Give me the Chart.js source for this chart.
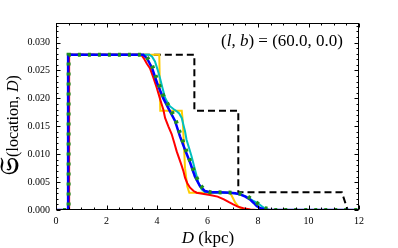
<!DOCTYPE html>
<html><head><meta charset="utf-8">
<script src="https://cdn.jsdelivr.net/npm/chart.js@4/dist/chart.umd.min.js"></script>
<style>html,body{margin:0;padding:0;background:#fff}canvas{display:block}</style>
</head><body>
<canvas id="c" width="398" height="248"></canvas>
<script>
// ---- data ----
const blackX = [0, 0.5, 0.5, 5.48, 5.48, 7.22, 7.22, 11.32, 11.55, 12];
const blackY = [0, 0, 0.0278, 0.0278, 0.0178, 0.0178, 0.0032, 0.0032, 0, 0];

const yellowX = [0, 0.5, 0.5, 4.09, 4.13, 4.98, 5.02, 5.11, 5.2, 5.28, 6.9, 7.0, 7.1, 7.25, 7.45, 12];
const yellowY = [0, 0, 0.0278, 0.0278, 0.0178, 0.0178, 0.016, 0.0075, 0.0042, 0.0031, 0.0031, 0.0022, 0.0013, 0.0005, 0, 0];

const cyanX = [0, 0.48, 0.48, 3.7, 3.8, 3.92, 4.02, 4.12, 4.22, 4.32, 4.42, 4.51, 4.65, 4.78, 4.88, 4.98, 5.05, 5.11, 5.17, 5.27, 5.37, 5.5, 5.64, 5.77, 5.9, 6.2, 6.9, 7.3, 7.5, 7.8, 8.0, 8.2, 8.4, 12];
const cyanY = [0, 0, 0.0278, 0.0278, 0.0275, 0.0266, 0.0252, 0.0236, 0.0218, 0.0201, 0.0192, 0.0186, 0.0181, 0.0177, 0.0173, 0.0165, 0.0152, 0.0141, 0.0126, 0.0111, 0.0096, 0.0073, 0.0049, 0.0037, 0.0032, 0.0031, 0.0031, 0.0028, 0.0025, 0.0017, 0.0012, 0.0005, 0, 0];

const redX = [0, 0.52, 0.52, 3.38, 3.5, 3.6, 3.72, 3.85, 3.99, 4.12, 4.25, 4.32, 4.45, 4.58, 4.68, 4.78, 4.88, 4.98, 5.05, 5.11, 5.2, 5.31, 5.45, 5.57, 5.8, 6.1, 6.4, 6.65, 6.85, 7.02, 7.2, 7.42, 7.7, 7.95, 12];
const redY = [0, 0, 0.0278, 0.0278, 0.027, 0.0262, 0.0254, 0.0238, 0.0219, 0.0199, 0.018, 0.0165, 0.015, 0.0136, 0.0121, 0.0105, 0.0092, 0.0079, 0.0069, 0.0058, 0.0048, 0.004, 0.0034, 0.0031, 0.0029, 0.0027, 0.0024, 0.0019, 0.0014, 0.001, 0.0006, 0.0003, 0.0001, 0, 0];

const blueX = [0, 0.48, 0.48, 3.45, 3.6, 3.8, 4.0, 4.25, 4.5, 4.71, 4.91, 5.11, 5.31, 5.5, 5.7, 5.9, 6.1, 6.5, 6.89, 7.1, 7.29, 7.5, 7.68, 7.82, 7.95, 8.1, 8.3, 8.45, 12];
const blueY = [0, 0, 0.0278, 0.0278, 0.0272, 0.0255, 0.0228, 0.02, 0.0178, 0.016, 0.0132, 0.0108, 0.0085, 0.006, 0.0043, 0.0034, 0.0032, 0.0032, 0.0031, 0.003, 0.0028, 0.0024, 0.0019, 0.0013, 0.0007, 0.0003, 0.0001, 0, 0];

const greenX = [0.28, 0.5, 0.5, 3.5, 3.6, 3.8, 4.0, 4.25, 4.5, 4.71, 4.91, 5.11, 5.31, 5.5, 5.7, 5.9, 6.1, 7.0, 7.3, 7.6, 7.85, 8.08, 8.3, 8.6, 12];
const greenY = [0, 0, 0.0278, 0.0278, 0.0274, 0.026, 0.0234, 0.0205, 0.0183, 0.0165, 0.0138, 0.0112, 0.0088, 0.0065, 0.0045, 0.0035, 0.0032, 0.0031, 0.0029, 0.0024, 0.0016, 0.0009, 0.0003, 0, 0];

const xTicks = [0, 2, 4, 6, 8, 10, 12];
const yTicks = [0, 0.005, 0.01, 0.015, 0.02, 0.025, 0.03];

const pts = (xs, ys) => xs.map((v, i) => ({x: v, y: ys[i]}));
const SERIF = '"Liberation Serif", "DejaVu Serif", serif';

// order: higher value drawn first (underneath)
const ds = (xs, ys, color, w, dash, order) => ({
  data: pts(xs, ys), borderColor: color, borderWidth: w, borderDash: dash || [],
  pointRadius: 0, fill: false, tension: 0, borderCapStyle: 'butt', borderJoinStyle: 'miter', order: order
});

function drawRuns(ctx, runs, x, y, align) {
  let total = 0;
  runs.forEach(r => { ctx.font = r[1]; total += ctx.measureText(r[0]).width; });
  let cx = align === 'center' ? x - total / 2 : (align === 'right' ? x - total : x);
  ctx.textAlign = 'left'; ctx.textBaseline = 'alphabetic';
  runs.forEach(r => { ctx.font = r[1]; ctx.fillText(r[0], cx, y); cx += ctx.measureText(r[0]).width; });
}

const decor = {
  id: 'decor',
  afterDatasetsDraw(chart) {
    const {ctx, chartArea: a, scales: {x, y}} = chart;
    ctx.save();
    ctx.strokeStyle = '#000'; ctx.lineWidth = 1;
    const L = Math.round(a.left) + 0.5, R = Math.round(a.right) - 0.5, T = Math.round(a.top) + 0.5, B = Math.round(a.bottom) - 0.5;
    ctx.strokeRect(L, T, R - L, B - T);
    ctx.beginPath();
    for (let i = 0; i <= 24; i++) {
      const v = i * 0.5, px = Math.round(x.getPixelForValue(v)) + 0.5;
      const len = (i % 4 === 0) ? 4 : 2;
      ctx.moveTo(px, B); ctx.lineTo(px, B - len);
      ctx.moveTo(px, T); ctx.lineTo(px, T + len);
    }
    for (let i = 0; i <= 33; i++) {
      const v = i * 0.001, py = Math.round(y.getPixelForValue(v)) + 0.5;
      const len = (i % 5 === 0) ? 4 : 2;
      ctx.moveTo(L, py); ctx.lineTo(L + len, py);
      ctx.moveTo(R, py); ctx.lineTo(R - len, py);
    }
    ctx.stroke();
    ctx.fillStyle = '#000';
    const f = '17px ' + SERIF, fi = 'italic 17px ' + SERIF;
    drawRuns(ctx, [['(', f], ['l', fi], [', ', f], ['b', fi], [') = (60.0, 0.0)', f]], 343, 46, 'right');
    drawRuns(ctx, [['D', fi], [' (kpc)', f]], 208, 243, 'center');
    const g = '16px ' + SERIF, gi = 'italic 16px ' + SERIF;
    ctx.save();
    ctx.translate(18, 125);
    ctx.rotate(-Math.PI / 2);
    drawRuns(ctx, [['\u{1D516}', 'bold 25px "DejaVu Sans", "DejaVu Serif", serif'], ['(location, ', g], ['D', gi], [')', g]], 0, 0, 'center');
    ctx.restore();
    ctx.restore();
  }
};

new Chart(document.getElementById('c'), {
  type: 'line',
  data: {
    datasets: [
      ds(blackX, blackY, '#000000', 2, [7, 4], 6),
      ds(yellowX, yellowY, '#FFCC00', 2, null, 5),
      ds(cyanX, cyanY, '#00BFBF', 2, null, 4),
      ds(redX, redY, '#FF0000', 2, null, 3),
      ds(blueX, blueY, '#0000FF', 2.5, null, 2),
      ds(greenX, greenY, '#1f8f1f', 4, [3, 7], 1)
    ]
  },
  options: {
    responsive: false, animation: false,
    layout: {padding: {top: 23, right: 39, left: 0, bottom: 0}},
    plugins: {legend: {display: false}, tooltip: {enabled: false}},
    scales: {
      x: {
        type: 'linear', min: 0, max: 12,
        afterBuildTicks: s => { s.ticks = xTicks.map(v => ({value: v})); },
        afterFit: s => { s.height = 38; },
        grid: {display: false, drawTicks: false}, border: {display: false},
        ticks: {padding: 5, color: '#000', font: {family: SERIF, size: 10}, maxRotation: 0, callback: v => String(v)}
      },
      y: {
        type: 'linear', min: 0, max: 0.0335,
        afterBuildTicks: s => { s.ticks = yTicks.map(v => ({value: v})); },
        afterFit: s => { s.width = 56; },
        grid: {display: false, drawTicks: false}, border: {display: false},
        ticks: {padding: 6, color: '#000', font: {family: SERIF, size: 10}, callback: v => Number(v).toFixed(3)}
      }
    }
  },
  plugins: [decor]
});
</script>
</body></html>
